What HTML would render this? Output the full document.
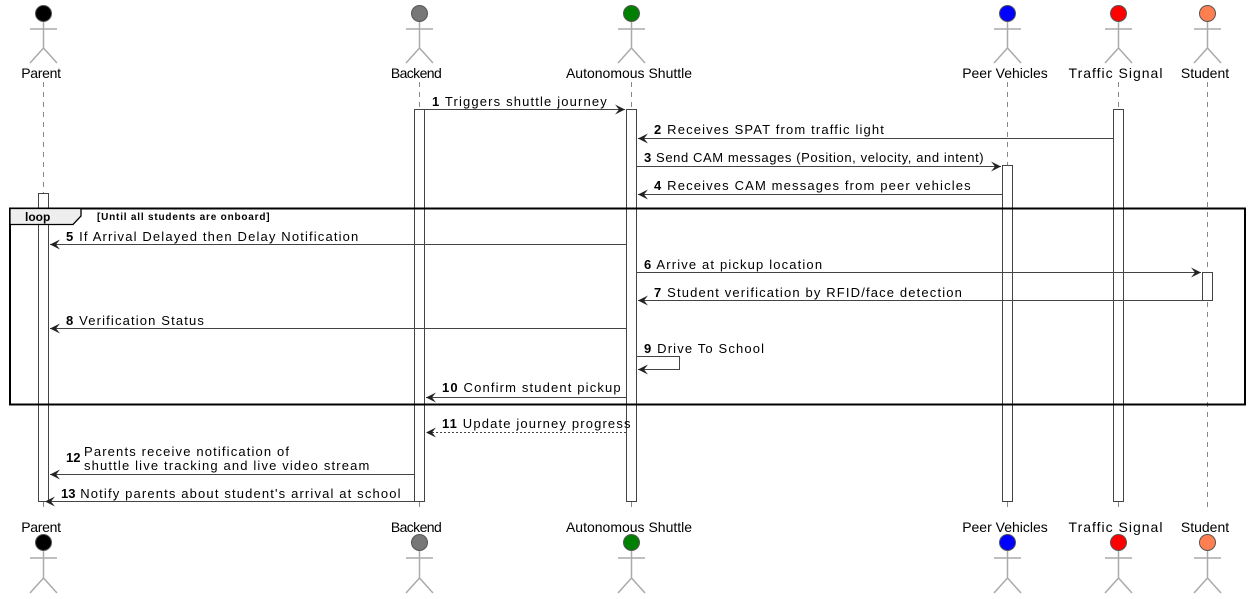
<!DOCTYPE html>
<html><head><meta charset="utf-8"><style>
html,body{margin:0;padding:0;background:#fff;}
svg{display:block;}
text{font-family:"Liberation Sans",sans-serif;font-size:13px;fill:#000;}
.m{letter-spacing:1.15px;}
.n{font-weight:bold;}
.nm{font-size:14px;}
</style></head><body>
<svg width="1251" height="599" viewBox="0 0 1251 599" xmlns="http://www.w3.org/2000/svg">
<defs>
<marker id="a" markerWidth="12" markerHeight="10" refX="10" refY="5" orient="auto" markerUnits="userSpaceOnUse">
<path d="M0,0 L10,5 L0,10 L4,5 Z" fill="#222"/>
</marker>
</defs>
<g stroke="#888" stroke-dasharray="5,5" stroke-width="1">
<line x1="43.5" y1="82" x2="43.5" y2="512"/>
<line x1="419.5" y1="82" x2="419.5" y2="512"/>
<line x1="631.5" y1="82" x2="631.5" y2="512"/>
<line x1="1007.5" y1="82" x2="1007.5" y2="512"/>
<line x1="1118.5" y1="82" x2="1118.5" y2="512"/>
<line x1="1207.5" y1="82" x2="1207.5" y2="512"/>
</g>
<g stroke="#aaa" stroke-width="1.5" fill="none">
<path d="M43.5,21 V48 M30,29 H57 M30,63 L43.5,48 L57,63"/>
<path d="M419.5,21 V48 M406,29 H433 M406,63 L419.5,48 L433,63"/>
<path d="M631.5,21 V48 M618,29 H645 M618,63 L631.5,48 L645,63"/>
<path d="M1007.5,21 V48 M994,29 H1021 M994,63 L1007.5,48 L1021,63"/>
<path d="M1118.5,21 V48 M1105,29 H1132 M1105,63 L1118.5,48 L1132,63"/>
<path d="M1207.5,21 V48 M1194,29 H1221 M1194,63 L1207.5,48 L1221,63"/>
<path d="M43.5,550 V578 M30,558 H57 M30,593 L43.5,578 L57,593"/>
<path d="M419.5,550 V578 M406,558 H433 M406,593 L419.5,578 L433,593"/>
<path d="M631.5,550 V578 M618,558 H645 M618,593 L631.5,578 L645,593"/>
<path d="M1007.5,550 V578 M994,558 H1021 M994,593 L1007.5,578 L1021,593"/>
<path d="M1118.5,550 V578 M1105,558 H1132 M1105,593 L1118.5,578 L1132,593"/>
<path d="M1207.5,550 V578 M1194,558 H1221 M1194,593 L1207.5,578 L1221,593"/>
</g>
<g stroke="#555" stroke-width="1">
<circle cx="43.5" cy="13.5" r="8" fill="#000"/>
<circle cx="419.5" cy="13.5" r="8" fill="#777"/>
<circle cx="631.5" cy="13.5" r="8" fill="#008000"/>
<circle cx="1007.5" cy="13.5" r="8" fill="#0000ff"/>
<circle cx="1118.5" cy="13.5" r="8" fill="#ff0000"/>
<circle cx="1207.5" cy="13.5" r="8" fill="#ff7f50"/>
<circle cx="43.5" cy="542.5" r="8" fill="#000"/>
<circle cx="419.5" cy="542.5" r="8" fill="#777"/>
<circle cx="631.5" cy="542.5" r="8" fill="#008000"/>
<circle cx="1007.5" cy="542.5" r="8" fill="#0000ff"/>
<circle cx="1118.5" cy="542.5" r="8" fill="#ff0000"/>
<circle cx="1207.5" cy="542.5" r="8" fill="#ff7f50"/>
</g>
<g text-anchor="middle">
<text class="nm" x="41" y="78" style="letter-spacing:-0.3px">Parent</text>
<text class="nm" x="416" y="78" style="letter-spacing:-0.6px">Backend</text>
<text class="nm" x="629" y="78">Autonomous Shuttle</text>
<text class="nm" x="1005" y="78">Peer Vehicles</text>
<text class="nm" x="1116" y="78" style="letter-spacing:1px">Traffic Signal</text>
<text class="nm" x="1205" y="78">Student</text>
<text class="nm" x="41" y="532" style="letter-spacing:-0.3px">Parent</text>
<text class="nm" x="416" y="532" style="letter-spacing:-0.6px">Backend</text>
<text class="nm" x="629" y="532">Autonomous Shuttle</text>
<text class="nm" x="1005" y="532">Peer Vehicles</text>
<text class="nm" x="1116" y="532" style="letter-spacing:1px">Traffic Signal</text>
<text class="nm" x="1205" y="532">Student</text>
</g>
<g fill="#fff" stroke="#444" stroke-width="1">
<rect x="38.5" y="193.5" width="10" height="308"/>
<rect x="414.5" y="109.5" width="10" height="392"/>
<rect x="626.5" y="109.5" width="10" height="392"/>
<rect x="1002.5" y="165.5" width="10" height="336"/>
<rect x="1113.5" y="109.5" width="10" height="392"/>
<rect x="1202.5" y="272.5" width="10" height="28"/>
</g>
<rect x="10" y="208.5" width="1235" height="196" fill="none" stroke="#000" stroke-width="2"/>
<path d="M10,208.5 H81 V216 L73,224.5 H10 Z" fill="#eee" stroke="#000" stroke-width="1.3"/>
<text x="25" y="221" class="n" style="font-size:12px">loop</text>
<text x="97" y="220" class="n" style="font-size:10px;letter-spacing:0.8px">[Until all students are onboard]</text>
<g stroke="#444" stroke-width="1" fill="none" marker-end="url(#a)">
<line x1="425" y1="109.5" x2="625" y2="109.5"/>
<line x1="1113" y1="138.5" x2="638" y2="138.5"/>
<line x1="637" y1="166.5" x2="1001" y2="166.5"/>
<line x1="1002" y1="194.5" x2="638" y2="194.5"/>
<line x1="626" y1="244.5" x2="50" y2="244.5"/>
<line x1="637" y1="272.5" x2="1201" y2="272.5"/>
<line x1="1202" y1="300.5" x2="638" y2="300.5"/>
<line x1="626" y1="328.5" x2="50" y2="328.5"/>
<path d="M637,356.5 H679.5 V369.5 H638"/>
<line x1="626" y1="397.5" x2="426" y2="397.5"/>
<line x1="626" y1="432.5" x2="426" y2="432.5" stroke-dasharray="2,2"/>
<line x1="414" y1="474.5" x2="50" y2="474.5"/>
<line x1="414" y1="501.5" x2="45" y2="501.5"/>
</g>
<g class="m">
<text x="432" y="106"><tspan class="n">1</tspan> Triggers shuttle journey</text>
<text x="654" y="134"><tspan class="n">2</tspan> Receives SPAT from traffic light</text>
<text x="644" y="162" style="letter-spacing:0.6px"><tspan class="n">3</tspan> Send CAM messages (Position, velocity, and intent)</text>
<text x="654" y="190"><tspan class="n">4</tspan> Receives CAM messages from peer vehicles</text>
<text x="66" y="241"><tspan class="n">5</tspan> If Arrival Delayed then Delay Notification</text>
<text x="644" y="269"><tspan class="n">6</tspan> Arrive at pickup location</text>
<text x="654" y="297"><tspan class="n">7</tspan> Student verification by RFID/face detection</text>
<text x="66" y="325"><tspan class="n">8</tspan> Verification Status</text>
<text x="644" y="353"><tspan class="n">9</tspan> Drive To School</text>
<text x="442" y="392"><tspan class="n">10</tspan> Confirm student pickup</text>
<text x="442" y="428"><tspan class="n">11</tspan> Update journey progress</text>
<text x="66" y="462" class="n" style="letter-spacing:0">12</text>
<text x="84" y="456">Parents receive notification of</text>
<text x="84" y="470">shuttle live tracking and live video stream</text>
<text x="61" y="498"><tspan class="n" style="letter-spacing:0">13</tspan> Notify parents about student's arrival at school</text>
</g>
</svg>
</body></html>
